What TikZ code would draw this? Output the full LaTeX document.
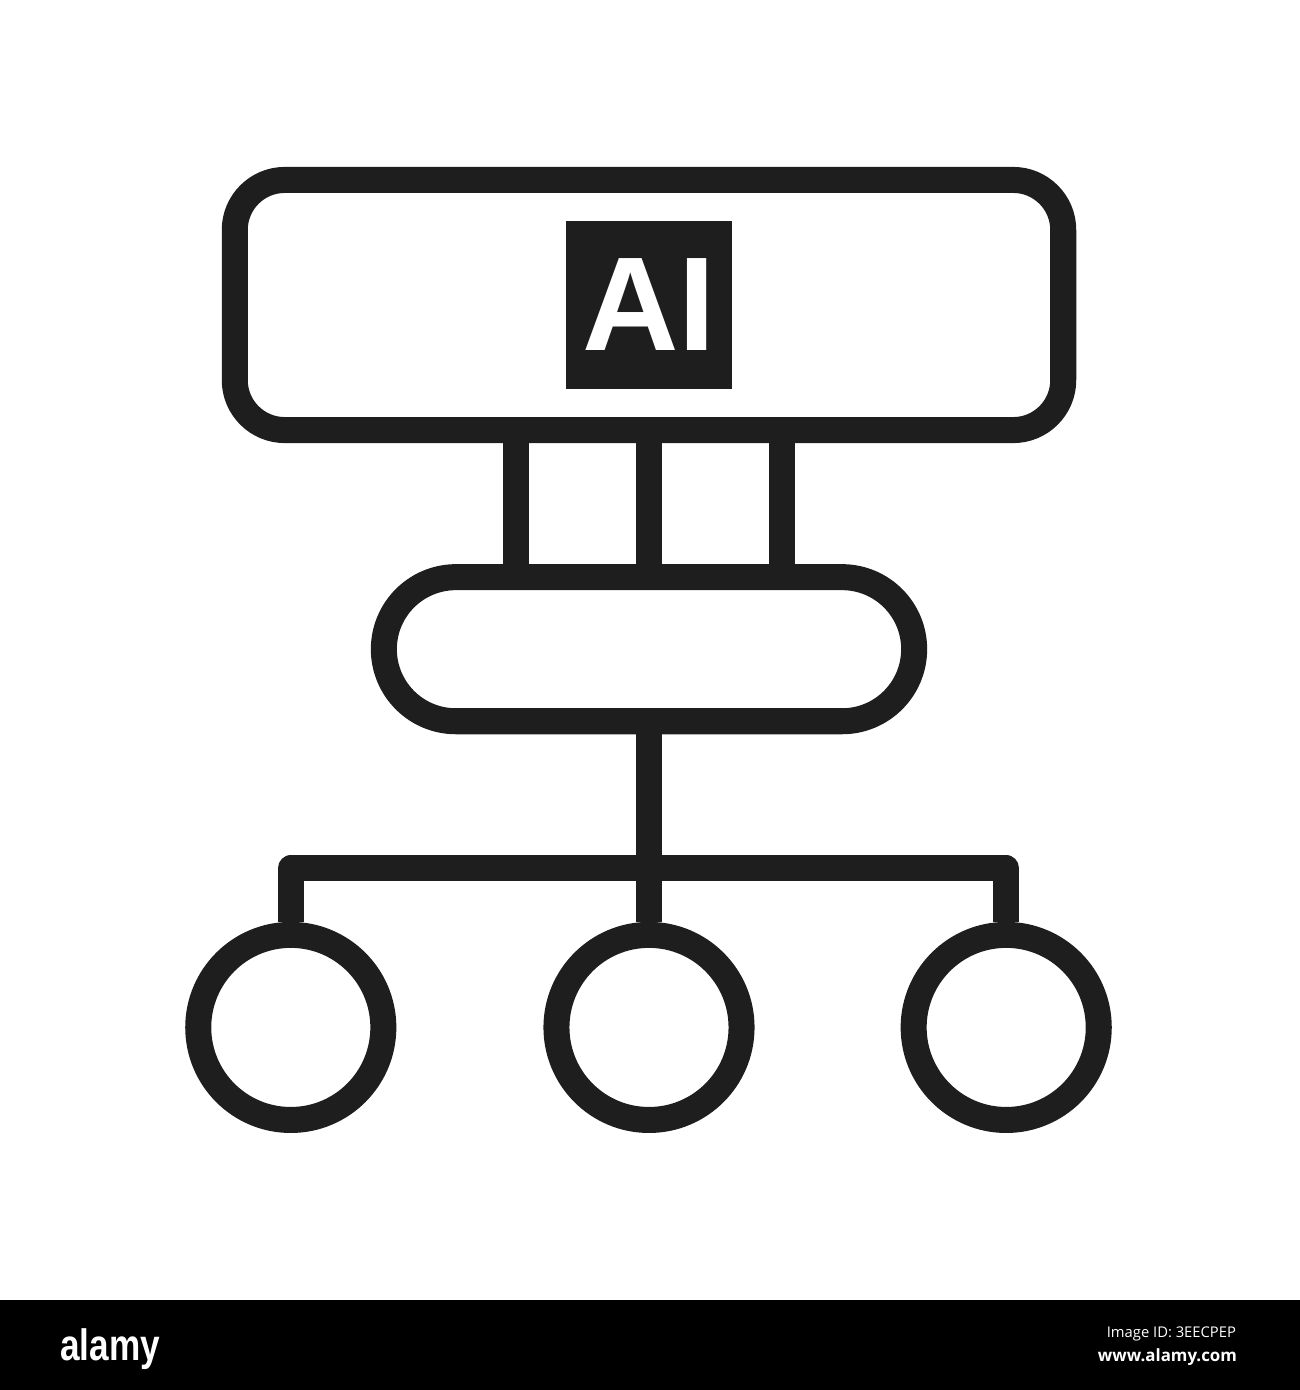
\documentclass[tikz,border=0pt]{standalone}
\usepackage{fontspec}
\setmainfont{Liberation Sans}
\newfontfamily\bannerfont{Open Sans}
\usetikzlibrary{positioning}
\definecolor{ink}{RGB}{30,30,30}

\begin{document}
\begin{tikzpicture}[x=0.01cm,y=-0.01cm,node distance=2cm,on grid,line width=0.26cm,line join=round]
       \tikzstyle{every node}=[inner sep=0pt]
       \tikzstyle{frame}=[draw=ink,rectangle]
       \tikzstyle{leaf}=[draw=ink,circle,minimum size=1.85cm]

       \useasboundingbox (0,0) rectangle (1300,1390);

       \node[frame, minimum width=8.28cm, minimum height=2.5cm, rounded corners=0.5cm] (top) at (649,305) {};
       \node[fill=ink, text=white, minimum width=1.66cm, minimum height=1.68cm,
             font=\bfseries\fontsize{38}{38}\selectfont] (ai) at (top) {AI};
       \node[frame, minimum width=5.3cm, minimum height=1.44cm, rounded corners=0.72cm] (pill) [below=3.44cm of top] {};
       \coordinate[below=2.19cm of pill] (hub);
       \node[leaf] (c_2) [below=3.78cm of pill] {};
       \node[leaf] (c_1) [left=3.58cm of c_2] {};
       \node[leaf] (c_3) [right=3.57cm of c_2] {};

       \foreach \dx in {-1.33,0,1.33}
         \draw[ink] ([xshift=\dx cm]top.south) -- ([xshift=\dx cm]pill.north);

       \draw[ink] (pill.south) -- (hub);
       \draw[ink] (c_1.north) |- (hub) -| (c_3.north);
       \draw[ink] (hub) -- (c_2.north);

       % banner
       \fill[black] (0,1300) rectangle (1300,1390);
       \node[anchor=base west, text=white, xscale=0.8,
             font=\bfseries\fontsize{12.5}{12.5}\selectfont] (logo) at (50,1360) {alamy};
       \node[anchor=base east, text=white,
             font=\bannerfont\fontsize{4.2}{4.2}\selectfont] (imgid) at (1249,1337) {Image ID: 3EECPEP};
       \node[anchor=base east, text=white,
             font=\bannerfont\bfseries\fontsize{4.8}{4.8}\selectfont] (site) at (1250,1361) {www.alamy.com};
     \end{tikzpicture}
\end{document}
